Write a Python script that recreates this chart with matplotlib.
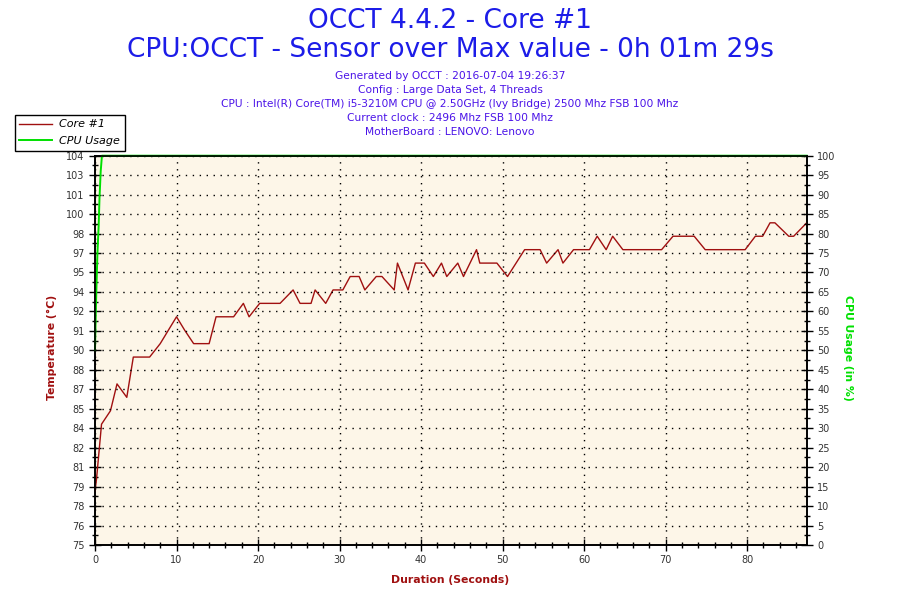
import numpy as np
import matplotlib
matplotlib.use('Agg')
import matplotlib.pyplot as plt

# Core #1 temperature trace (seconds, deg C)
time_s = [0.0, 0.2, 0.5, 0.8, 1.9, 2.7, 3.9, 4.7, 6.7, 8.0, 9.0, 10.0, 11.0, 12.1,
          14.0, 14.85, 17.0, 18.2, 18.9, 20.2, 22.7, 24.3, 25.15, 26.5, 27.0, 28.3,
          29.2, 30.4, 31.3, 32.4, 33.1, 34.5, 35.2, 36.7, 37.1, 38.4, 39.3, 40.4,
          41.5, 42.5, 43.15, 44.5, 45.2, 46.8, 47.2, 49.3, 50.6, 52.7, 54.6, 55.4,
          56.8, 57.4, 58.7, 60.65, 61.6, 62.7, 63.5, 64.75, 69.5, 70.9, 73.5, 74.85,
          79.75, 81.0, 81.9, 82.8, 83.4, 85.1, 85.7, 87.3]
temp_c = [79, 80, 82, 84, 85, 87, 86, 89, 89, 90, 91, 92, 91, 90,
          90, 92, 92, 93, 92, 93, 93, 94, 93, 93, 94, 93,
          94, 94, 95, 95, 94, 95, 95, 94, 96, 94, 96, 96,
          95, 96, 95, 96, 95, 97, 96, 96, 95, 97, 97, 96,
          97, 96, 97, 97, 98, 97, 98, 97, 97, 98, 98, 97,
          97, 98, 98, 99, 99, 98, 98, 99]

# CPU usage (%)
cpu_time_s = [0.0, 0.1, 0.2, 0.3, 0.45, 0.55, 0.7, 0.85, 87.3]
cpu_pct = [50, 60, 68, 75, 82, 89, 96, 100, 100]

temp_ticks = np.linspace(75, 104, 21)
temp_tick_labels = [75, 76, 78, 79, 81, 82, 84, 85, 87, 88, 90, 91, 92, 94, 95,
                    97, 98, 100, 101, 103, 104]
cpu_ticks = np.arange(0, 101, 5)

plt.rcParams['font.family'] = ['DejaVu Sans']

title_blue = '#1c1ce8'
sub_blue = '#4a12e8'
dark_red = '#a01010'
green = '#00e000'
tick_grey = '#333333'

fig = plt.figure(figsize=(9, 6), dpi=100)
ax = fig.add_axes([95 / 900, 55 / 600, 711.7 / 900, 389.3 / 600])
ax.set_facecolor('#fdf6e8')
ax2 = ax.twinx()

l1, = ax.plot(time_s, temp_c, color=dark_red, lw=1.0, label='Core #1', zorder=3)
l2, = ax2.plot(cpu_time_s, cpu_pct, color=green, lw=1.4, label='CPU Usage', zorder=2,
               clip_on=False)

ax.set_xlim(0, 87.3)
ax.set_ylim(75, 104)
ax2.set_ylim(0, 100)

ax.set_xticks(np.arange(0, 81, 10))
ax.set_xticks(np.arange(0, 87, 2), minor=True)
ax.set_yticks(temp_ticks)
ax.set_yticklabels([str(v) for v in temp_tick_labels])
ax.set_yticks((temp_ticks[:-1] + temp_ticks[1:]) / 2, minor=True)
ax2.set_yticks(cpu_ticks)
ax2.set_yticks(np.arange(2.5, 100, 5), minor=True)

for a in (ax, ax2):
    a.tick_params(which='major', direction='inout', length=9, width=1,
                  labelsize=7, labelcolor=tick_grey, pad=3)
    a.tick_params(which='minor', direction='inout', length=5, width=1)
    for s in a.spines.values():
        s.set_linewidth(1.2)

# dotted grid
ax.grid(True, axis='x', which='major', color='black', linestyle=(0, (1, 4)), lw=1)
ax2.grid(True, axis='y', which='major', color='black', linestyle=(0, (1, 4)), lw=1)
ax.set_axisbelow(True)

# titles
fig.text(0.5, 1 - 21 / 600, 'OCCT 4.4.2 - Core #1', ha='center', va='center',
         fontsize=19, color=title_blue)
fig.text(0.5, 1 - 50 / 600, 'CPU:OCCT - Sensor over Max value - 0h 01m 29s',
         ha='center', va='center', fontsize=19, color=title_blue)
sub_lines = ['Generated by OCCT : 2016-07-04 19:26:37',
             'Config : Large Data Set, 4 Threads',
             'CPU : Intel(R) Core(TM) i5-3210M CPU @ 2.50GHz (Ivy Bridge) 2500 Mhz FSB 100 Mhz',
             'Current clock : 2496 Mhz FSB 100 Mhz',
             'MotherBoard : LENOVO: Lenovo']
for i, line in enumerate(sub_lines):
    fig.text(0.5, 1 - (76 + 14 * i) / 600, line, ha='center', va='center',
             fontsize=7.7, color=sub_blue)

# axis labels
fig.text(52 / 900, 1 - 347 / 600, 'Temperature (°C)', rotation=90, ha='center',
         va='center', fontsize=7.8, fontweight='bold', color=dark_red)
fig.text(848 / 900, 1 - 348 / 600, 'CPU Usage (in %)', rotation=270, ha='center',
         va='center', fontsize=7.8, fontweight='bold', color=green)
fig.text(0.5, 1 - 580 / 600, 'Duration (Seconds)', ha='center', va='center',
         fontsize=7.8, fontweight='bold', color=dark_red)

leg = fig.legend(handles=[l1, l2], loc='upper left',
                 bbox_to_anchor=(15 / 900, 1 - 115 / 600), borderaxespad=0,
                 fancybox=False, edgecolor='black', framealpha=1,
                 prop={'size': 8, 'style': 'italic'}, handlelength=2.9,
                 handletextpad=0.7, borderpad=0.4, labelspacing=0.6)
leg.get_frame().set_linewidth(1)

fig.savefig('out.png', dpi=100)
